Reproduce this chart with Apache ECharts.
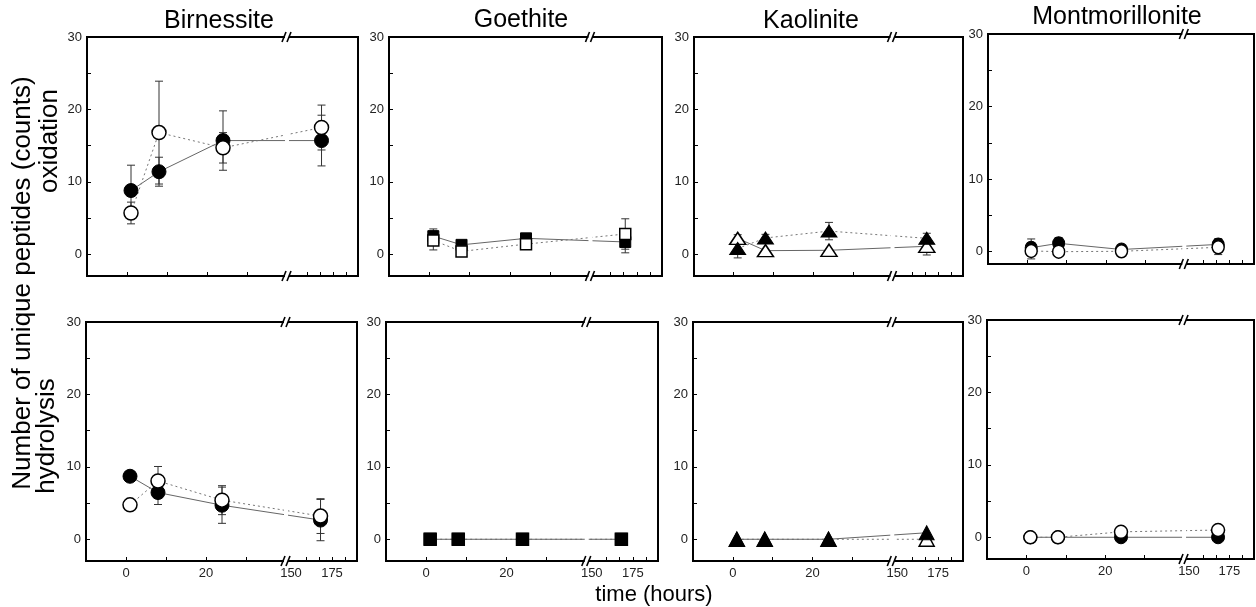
<!DOCTYPE html>
<html><head><meta charset="utf-8">
<script src="https://cdn.jsdelivr.net/npm/echarts@6/dist/echarts.min.js"></script>
<style>html,body{margin:0;padding:0;background:#fff}#c{width:1256px;height:607px}</style>
</head><body><div id="c"></div>
<script>
// ---------- data ----------
const times = [1, 8, 24, 168];                 // hours
const minerals = ['Birnessite', 'Goethite', 'Kaolinite', 'Montmorillonite'];
const xTickHours = [0, 10, 20, 30, 159, 167, 175, 183];
const xLabelHours = [0, 20, 150, 175];
const yLabelValues = [0, 10, 20, 30];
const yTickValues = [0, 5, 10, 15, 20, 25];

// oxidation (top row)
const birOxFilled = [8.8, 11.4, 15.7, 15.7];
const birOxFilledErr = [3.5, 2.0, 4.1, 3.5];
const birOxOpen = [5.7, 16.8, 14.7, 17.5];
const birOxOpenErr = [1.5, 7.1, 2.1, 3.1];
const goeOxFilled = [2.5, 1.3, 2.2, 1.7];
const goeOxFilledErr = [1.0, 0.6, 0.3, 1.5];
const goeOxOpen = [1.9, 0.4, 1.4, 2.8];
const goeOxOpenErr = [1.3, 0.0, 0.3, 2.1];
const kaoOxFilled = [0.8, 2.25, 3.2, 2.2];
const kaoOxFilledErr = [1.3, 0.5, 1.2, 0.7];
const kaoOxOpen = [2.2, 0.5, 0.55, 1.1];
const kaoOxOpenErr = [0.5, 0.0, 0.0, 1.2];
const monOxFilled = [0.55, 1.15, 0.3, 1.0];
const monOxFilledErr = [1.2, 0.8, 0.3, 0.8];
const monOxOpen = [0.1, 0.0, 0.05, 0.6];
const monOxOpenErr = [1.1, 0.2, 0.2, 1.0];

// hydrolysis (bottom row)
const birHyFilled = [8.7, 6.45, 4.7, 2.65];
const birHyFilledErr = [0.3, 1.65, 2.5, 2.85];
const birHyOpen = [4.75, 8.05, 5.4, 3.2];
const birHyOpenErr = [0.3, 2.0, 2.0, 2.4];
const goeHyFilled = [0, 0, 0, 0];
const goeHyOpen = [0, 0, 0, 0];
const kaoHyFilled = [0, 0, 0, 0.9];
const kaoHyOpen = [0, 0, 0, 0];
const monHyFilled = [0, 0, 0, 0];
const monHyOpen = [0, 0, 0.75, 1.0];
const noErr = [0, 0, 0, 0];

// ---------- broken time axis ----------
const BREAK_D = 40.25;
function toAxis(t) { return t <= 40 ? t : 41.25 + (t - 150) * 0.41; }
function fromAxis(d) { return d <= 40.5 ? d : 150 + (d - 41.25) / 0.41; }

// ---------- panels (layout) ----------
const panels = [
  {grid: {left: 87, top: 37, width: 271, height: 239}, ymin: -3, sym: 'circle', size: 14,
   f: birOxFilled, fe: birOxFilledErr, o: birOxOpen, oe: birOxOpenErr, fDot: false, openTop: true, xl: false},
  {grid: {left: 389, top: 37, width: 273, height: 239}, ymin: -3, sym: 'rect', size: 11,
   f: goeOxFilled, fe: goeOxFilledErr, o: goeOxOpen, oe: goeOxOpenErr, fDot: false, openTop: true, xl: false},
  {grid: {left: 694, top: 37, width: 269, height: 239}, ymin: -3, sym: 'triangle', size: [16, 12],
   f: kaoOxFilled, fe: kaoOxFilledErr, o: kaoOxOpen, oe: kaoOxOpenErr, fDot: true, openTop: false, xl: false},
  {grid: {left: 988, top: 34, width: 266, height: 230}, ymin: -1.7, sym: 'circle', size: [12, 13],
   f: monOxFilled, fe: monOxFilledErr, o: monOxOpen, oe: monOxOpenErr, fDot: false, openTop: true, xl: false},
  {grid: {left: 86, top: 322, width: 271, height: 239}, ymin: -3, sym: 'circle', size: 14,
   f: birHyFilled, fe: birHyFilledErr, o: birHyOpen, oe: birHyOpenErr, fDot: false, openTop: true, xl: true},
  {grid: {left: 386, top: 322, width: 272, height: 239}, ymin: -3, sym: 'rect', size: 12,
   f: goeHyFilled, fe: noErr, o: goeHyOpen, oe: noErr, fDot: false, openTop: false, xl: true},
  {grid: {left: 693, top: 322, width: 270, height: 239}, ymin: -3, sym: 'triangle', size: [15, 14],
   f: kaoHyFilled, fe: noErr, o: kaoHyOpen, oe: noErr, fDot: false, openTop: false, xl: true},
  {grid: {left: 987, top: 320, width: 267, height: 239}, ymin: -3, sym: 'circle', size: 13,
   f: monHyFilled, fe: noErr, o: monHyOpen, oe: noErr, fDot: false, openTop: true, xl: true}
];

const FONT = 'Liberation Sans, Arial, sans-serif';

function renderErr(params, api) {
  const x = api.value(0), lo = api.value(1), hi = api.value(2);
  if (!(hi - lo > 0)) return null;
  const a = api.coord([x, hi]), b = api.coord([x, lo]);
  const w = 4, st = {stroke: '#333', lineWidth: 1};
  return {type: 'group', children: [
    {type: 'line', shape: {x1: a[0], y1: a[1], x2: b[0], y2: b[1]}, style: st},
    {type: 'line', shape: {x1: a[0] - w, y1: a[1], x2: a[0] + w, y2: a[1]}, style: st},
    {type: 'line', shape: {x1: b[0] - w, y1: b[1], x2: b[0] + w, y2: b[1]}, style: st}
  ]};
}

function renderBreak(params, api) {
  const x = api.value(0);
  const top = api.coord([x, api.value(1)]);
  const bot = api.coord([x, api.value(2)]);
  const cx = top[0];
  const kids = [{type: 'rect', shape: {x: cx - 3, y: top[1] - 2, width: 4, height: bot[1] - top[1] + 4},
                 style: {fill: '#fff'}}];
  [top[1], bot[1]].forEach(y => {
    kids.push({type: 'line', shape: {x1: cx - 6, y1: y + 5, x2: cx - 2, y2: y - 5}, style: {stroke: '#000', lineWidth: 1.6}});
    kids.push({type: 'line', shape: {x1: cx - 1, y1: y + 5, x2: cx + 3, y2: y - 5}, style: {stroke: '#000', lineWidth: 1.6}});
  });
  return {type: 'group', children: kids};
}

const grids = [], xAxes = [], yAxes = [], series = [];
panels.forEach((p, i) => {
  grids.push(Object.assign({show: true, borderColor: '#000', borderWidth: 2, backgroundColor: 'transparent',
                            outerBoundsMode: 'none', containLabel: false}, p.grid));
  xAxes.push({
    type: 'value', gridIndex: i, min: -10, max: 57.75, position: 'bottom',
    axisLine: {show: false, onZero: false}, splitLine: {show: false},
    axisTick: {show: true, inside: true, length: 4, lineStyle: {color: '#000', width: 1},
               customValues: xTickHours.map(toAxis)},
    axisLabel: {show: p.xl, margin: 6, color: '#222', fontSize: 13, fontFamily: FONT,
                customValues: xLabelHours.map(toAxis),
                formatter: v => String(Math.round(fromAxis(v)))}
  });
  yAxes.push({
    type: 'value', gridIndex: i, min: p.ymin, max: 30, position: 'left',
    axisLine: {show: false, onZero: false}, splitLine: {show: false},
    axisTick: {show: true, inside: true, length: 4, lineStyle: {color: '#000', width: 1},
               customValues: yTickValues},
    axisLabel: {show: true, margin: 5, color: '#222', fontSize: 13, fontFamily: FONT,
                customValues: yLabelValues}
  });
  const errData = (vals, errs) => times.map((t, k) => [toAxis(t), vals[k] - errs[k], vals[k] + errs[k]]);
  series.push({type: 'custom', xAxisIndex: i, yAxisIndex: i, renderItem: renderErr, clip: false, z: 1,
               silent: true, data: errData(p.f, p.fe)});
  series.push({type: 'custom', xAxisIndex: i, yAxisIndex: i, renderItem: renderErr, clip: false, z: 1,
               silent: true, data: errData(p.o, p.oe)});
  const mk = (vals, filled, dotted) => ({
    type: 'line', xAxisIndex: i, yAxisIndex: i, z: 2, silent: true,
    data: times.map((t, k) => [toAxis(t), vals[k]]),
    symbol: p.sym, symbolSize: p.size, showSymbol: true, showAllSymbol: true,
    lineStyle: {color: dotted ? '#777' : '#666', width: 1, type: dotted ? [2, 3] : 'solid'},
    itemStyle: {color: filled ? '#000' : '#fff', borderColor: '#000', borderWidth: filled ? 1 : 1.5},
    emphasis: {disabled: true}
  });
  const fs = mk(p.f, true, p.fDot), os = mk(p.o, false, !p.fDot);
  if (p.openTop) { series.push(fs, os); } else { series.push(os, fs); }
  series.push({type: 'custom', xAxisIndex: i, yAxisIndex: i, renderItem: renderBreak, clip: false, z: 3,
               silent: true, data: [[BREAK_D, 30, p.ymin]]});
});

const titlePos = [[219, 21], [521, 20], [811, 21], [1117, 17]];
const graphic = minerals.map((m, k) => ({
  type: 'text', x: titlePos[k][0], y: titlePos[k][1], z: 10,
  style: {text: m, font: '25px ' + FONT, fill: '#000', textAlign: 'center', textVerticalAlign: 'middle'}
}));
graphic.push(
  {type: 'text', x: 23, y: 283, rotation: Math.PI / 2, z: 10,
   style: {text: 'Number of unique peptides (counts)', font: '26px ' + FONT, fill: '#000', textAlign: 'center', textVerticalAlign: 'middle'}},
  {type: 'text', x: 50, y: 141, rotation: Math.PI / 2, z: 10,
   style: {text: 'oxidation', font: '26px ' + FONT, fill: '#000', textAlign: 'center', textVerticalAlign: 'middle'}},
  {type: 'text', x: 47, y: 436, rotation: Math.PI / 2, z: 10,
   style: {text: 'hydrolysis', font: '26px ' + FONT, fill: '#000', textAlign: 'center', textVerticalAlign: 'middle'}},
  {type: 'text', x: 654, y: 595, z: 10,
   style: {text: 'time (hours)', font: '22px ' + FONT, fill: '#000', textAlign: 'center', textVerticalAlign: 'middle'}}
);

const chart = echarts.init(document.getElementById('c'), null, {renderer: 'canvas'});
chart.setOption({
  animation: false, backgroundColor: '#fff',
  grid: grids, xAxis: xAxes, yAxis: yAxes, series: series, graphic: graphic
});
</script></body></html>
